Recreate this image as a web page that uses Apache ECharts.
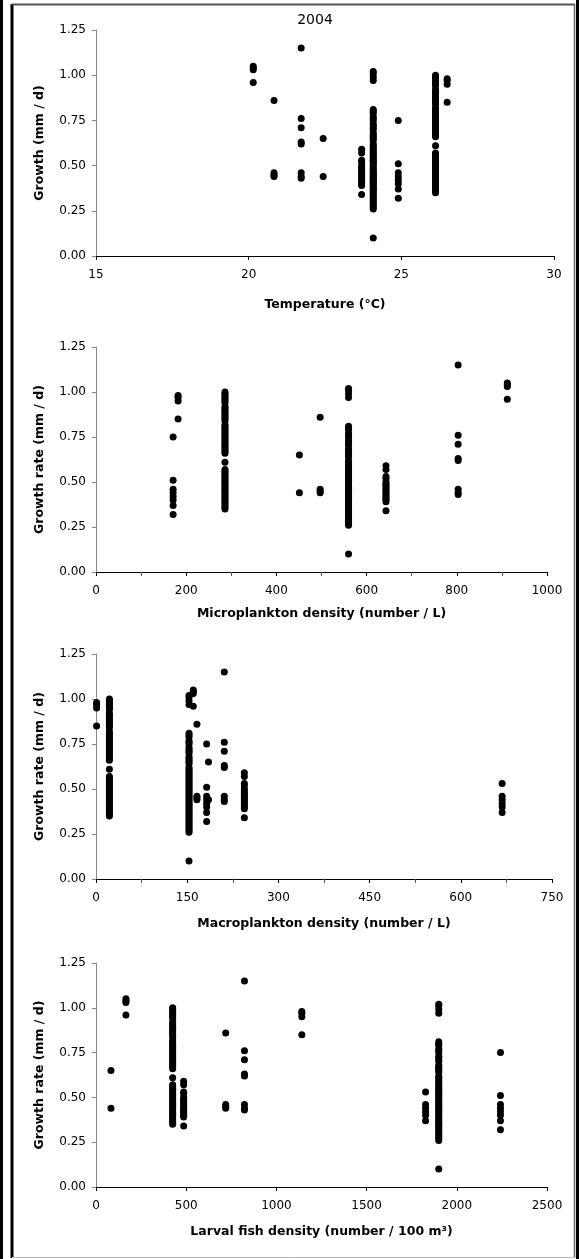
<!DOCTYPE html>
<html lang="en">
<head>
    <meta charset="UTF-8">
    <title>2004 growth</title>
    <style>
        html, body { margin: 0; padding: 0; background: #fff; }
        #main { width: 579px; height: 1259px; }
    </style>
</head>
<body>
<div id="main"></div>
<script src="https://cdn.jsdelivr.net/npm/echarts/dist/echarts.min.js"></script>
<script type="text/javascript">
    // growth values (mm / d) by sampling group
    var gA = [1.05, 1.04, 1.03, 0.96];
    var gB = [0.86, 0.46, 0.45, 0.44];
    var gC = [1.15, 0.76, 0.71, 0.63, 0.62, 0.46, 0.44, 0.43];
    var gD = [0.65, 0.44];
    var gE = [0.59, 0.57, 0.53, 0.52, 0.50, 0.49, 0.48, 0.47, 0.46, 0.45, 0.44, 0.43, 0.42, 0.41, 0.40, 0.39, 0.34];
    var gF = [1.02, 1.01, 0.99, 0.97, 0.81, 0.80, 0.79, 0.77, 0.76, 0.75, 0.73, 0.72, 0.71, 0.70, 0.68, 0.67,
        0.66, 0.65, 0.64, 0.62, 0.61, 0.60, 0.59, 0.58, 0.57, 0.56, 0.55, 0.54, 0.53, 0.52, 0.51, 0.50, 0.49,
        0.48, 0.47, 0.46, 0.45, 0.44, 0.43, 0.42, 0.41, 0.40, 0.39, 0.38, 0.37, 0.36, 0.35, 0.34, 0.33, 0.32,
        0.31, 0.30, 0.29, 0.28, 0.27, 0.26, 0.10];
    var gG = [0.53, 0.46, 0.44, 0.42, 0.40, 0.37];
    var gH = [0.75, 0.51, 0.46, 0.44, 0.42, 0.40, 0.37, 0.32];
    var gI = [1.00, 0.99, 0.98, 0.97, 0.96, 0.95, 0.94, 0.92, 0.91, 0.90, 0.89, 0.88, 0.87, 0.86, 0.85, 0.84,
        0.82, 0.81, 0.80, 0.79, 0.78, 0.77, 0.76, 0.75, 0.74, 0.73, 0.72, 0.71, 0.70, 0.69, 0.68, 0.67, 0.66,
        0.61, 0.57, 0.56, 0.55, 0.54, 0.53, 0.52, 0.51, 0.50, 0.49, 0.48, 0.47, 0.46, 0.45, 0.44, 0.43, 0.42,
        0.41, 0.40, 0.39, 0.38, 0.37, 0.36, 0.35];
    var gJ = [0.98, 0.97, 0.95, 0.85];
    var growthGroups = [gA, gB, gC, gD, gE, gF, gG, gH, gI, gJ];

    // x value of each group in every panel
    var temperature   = [20.15, 20.83, 21.72, 22.44, 23.70, 24.08, 24.08, 24.90, 26.12, 26.50];
    var microplankton = [912, 497, 803, 451, 643, 560, 560, 171, 286, 182];
    var macroplankton = [160, 166, 211, 185, 244, 153, 668, 182, 22, 1];
    var larvalFish    = [166, 719, 823, 83, 486, 1900, 1827, 2242, 425, 1141];

    var xNames = ['Temperature (°C)', 'Microplankton density (number / L)',
        'Macroplankton density (number / L)', 'Larval fish density (number / 100 m³)'];
    var yNames = ['Growth (mm / d)', 'Growth rate (mm / d)', 'Growth rate (mm / d)', 'Growth rate (mm / d)'];
    var xMin = [15, 0, 0, 0];
    var xMax = [30, 1000, 750, 2500];
    var xStep = [5, 200, 150, 500];
    var yTicks = [0, 0.25, 0.5, 0.75, 1.0, 1.25];

    var panels = [temperature, microplankton, macroplankton, larvalFish];
    var grids = [
        {left: 96, top: 30, width: 458, height: 226},
        {left: 96, top: 347, width: 451, height: 225},
        {left: 96, top: 654, width: 456, height: 225},
        {left: 96, top: 963, width: 451, height: 224}
    ];
    var nameGaps = [42, 35, 38, 38];
    var minorOn = [false, true, true, false];
    var font = 'DejaVu Sans';

    function pointsFor(xs) {
        var pts = [];
        for (var g = 0; g < growthGroups.length; g++) {
            for (var k = 0; k < growthGroups[g].length; k++) {
                pts.push([xs[g], growthGroups[g][k]]);
            }
        }
        return pts;
    }

    var xAxes = [], yAxes = [], series = [];
    for (var i = 0; i < 4; i++) {
        xAxes.push({
            gridIndex: i,
            type: 'value',
            min: xMin[i], max: xMax[i], interval: xStep[i],
            name: xNames[i],
            nameLocation: 'middle',
            nameGap: nameGaps[i],
            nameTextStyle: {fontFamily: font, fontWeight: 'bold', fontSize: 12.5, color: '#000'},
            axisLine: {onZero: false, lineStyle: {color: '#000', width: 1}},
            axisTick: {show: true, length: 4, lineStyle: {color: '#000'}},
            minorTick: {show: minorOn[i], splitNumber: 2, length: 4, lineStyle: {color: '#555'}},
            axisLabel: {
                fontFamily: font, fontSize: 12, color: '#000', margin: 13,
                formatter: function (v) { return String(v); }
            },
            splitLine: {show: false}
        });
        yAxes.push({
            gridIndex: i,
            type: 'value',
            min: 0, max: yTicks[yTicks.length - 1], interval: 0.25,
            name: yNames[i],
            nameLocation: 'middle',
            nameGap: 50,
            nameTextStyle: {fontFamily: font, fontWeight: 'bold', fontSize: 12.5, color: '#000'},
            axisLine: {show: true, lineStyle: {color: '#888', width: 1}},
            axisTick: {show: true, length: 4, lineStyle: {color: '#888'}},
            axisLabel: {
                fontFamily: font, fontSize: 12, color: '#000', margin: 10,
                formatter: function (v) { return v.toFixed(2); }
            },
            splitLine: {show: false}
        });
        series.push({
            type: 'scatter',
            xAxisIndex: i,
            yAxisIndex: i,
            symbol: 'circle',
            symbolSize: 7,
            itemStyle: {color: '#000', opacity: 1},
            data: pointsFor(panels[i])
        });
    }

    var myChart = echarts.init(document.getElementById('main'));
    var option = {
        animation: false,
        backgroundColor: '#fff',
        grid: grids,
        xAxis: xAxes,
        yAxis: yAxes,
        series: series,
        graphic: [
            {type: 'text', x: 315, y: 20, style: {text: '2004', font: '14px "DejaVu Sans"', fill: '#000', align: 'center', verticalAlign: 'middle'}},
            // frame
            {type: 'line', shape: {x1: 1.5, y1: 0, x2: 1.5, y2: 1259}, style: {stroke: '#000', lineWidth: 3}},
            {type: 'line', shape: {x1: 577.5, y1: 0, x2: 577.5, y2: 1259}, style: {stroke: '#000', lineWidth: 3}},
            {type: 'line', shape: {x1: 12, y1: 4, x2: 12, y2: 1258}, style: {stroke: '#000', lineWidth: 3}},
            {type: 'line', shape: {x1: 12, y1: 4.5, x2: 575, y2: 4.5}, style: {stroke: '#555', lineWidth: 2}},
            {type: 'line', shape: {x1: 574.5, y1: 4, x2: 574.5, y2: 1258}, style: {stroke: '#666', lineWidth: 1.5}},
            {type: 'line', shape: {x1: 12, y1: 1257.5, x2: 575, y2: 1257.5}, style: {stroke: '#bbb', lineWidth: 1}}
        ]
    };
    myChart.setOption(option);
</script>
</body>
</html>
